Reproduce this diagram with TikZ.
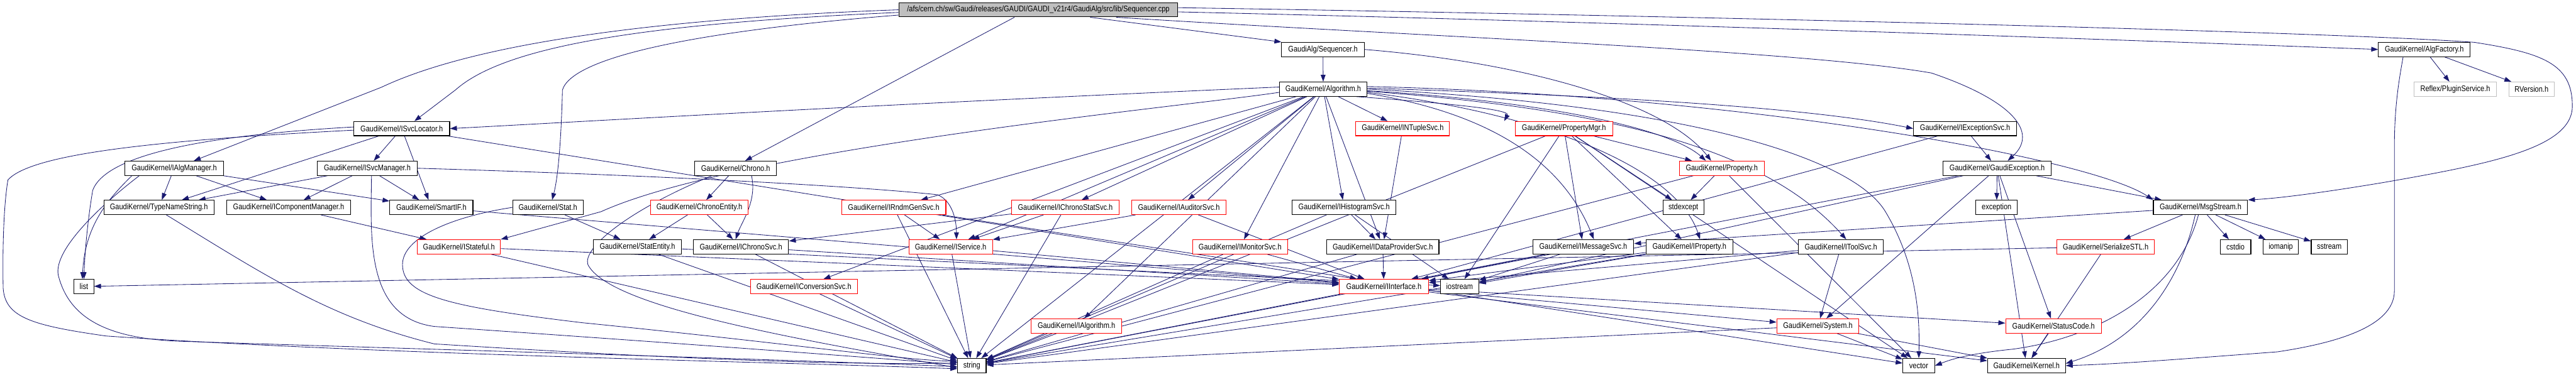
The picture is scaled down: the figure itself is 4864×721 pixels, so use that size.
\documentclass[tikz,border=0pt]{standalone}
\usepackage{fontspec}
\setmainfont{Liberation Sans}[FakeStretch=0.85]
\usetikzlibrary{arrows.meta,backgrounds}
\definecolor{navy}{HTML}{191970}
\definecolor{gfill}{HTML}{BFBFBF}
\newcommand\gfont{\fontsize{15.4}{18}\selectfont}
\tikzset{
 nb/.style={draw=black, line width=1.3pt, minimum height=27pt, inner sep=0pt, fill=white, font=\gfont},
 nr/.style={nb, draw=red},
 ng/.style={nb, draw=gfill},
 e/.style={draw=navy, line width=1pt, -{Triangle[length=13pt,width=9pt]}},
}
\begin{document}
\begin{tikzpicture}[x=1pt,y=-1pt]
\useasboundingbox (0,0) rectangle (4864,721);
% row A
\node[nb, fill=gfill, minimum width=527pt] (cpp) at (1960.5,18.5) {/afs/cern.ch/sw/Gaudi/releases/GAUDI/GAUDI\_v21r4/GaudiAlg/src/lib/Sequencer.cpp};
% row B
\node[nb, minimum width=156pt] (seqh) at (2498,93.5) {GaudiAlg/Sequencer.h};
\node[nb, minimum width=173pt] (algf) at (4577.5,93.5) {GaudiKernel/AlgFactory.h};
% row C
\node[nb, minimum width=165pt] (algh) at (2498.5,168.5) {GaudiKernel/Algorithm.h};
\node[ng, minimum width=156pt] (reflex) at (4636,168.5) {Reflex/PluginService.h};
\node[ng, minimum width=86pt] (rver) at (4780,168.5) {RVersion.h};
% row D
\node[nb, minimum width=181pt] (isvcloc) at (758.5,243) {GaudiKernel/ISvcLocator.h};
\node[nr, minimum width=177pt] (intuple) at (2648.5,243) {GaudiKernel/INTupleSvc.h};
\node[nr, minimum width=184pt] (propmgr) at (2953,243) {GaudiKernel/PropertyMgr.h};
\node[nb, minimum width=195pt] (iexc) at (3710.5,243) {GaudiKernel/IExceptionSvc.h};
% row E
\node[nb, minimum width=186pt] (ialgmgr) at (329,318) {GaudiKernel/IAlgManager.h};
\node[nb, minimum width=189pt] (isvcmgr) at (693.5,318) {GaudiKernel/ISvcManager.h};
\node[nb, minimum width=154pt] (chrono) at (1389,318) {GaudiKernel/Chrono.h};
\node[nr, minimum width=160pt] (prop) at (3251,318) {GaudiKernel/Property.h};
\node[nb, minimum width=204pt] (gexc) at (3771,318) {GaudiKernel/GaudiException.h};
% row F
\node[nb, minimum width=208pt] (tns) at (300,392) {GaudiKernel/TypeNameString.h};
\node[nb, minimum width=234pt] (icm) at (545,392) {GaudiKernel/IComponentManager.h};
\node[nb, minimum width=157pt] (smartif) at (814.5,392) {GaudiKernel/SmartIF.h};
\node[nb, minimum width=133pt] (stat) at (1034.5,392) {GaudiKernel/Stat.h};
\node[nr, minimum width=185pt] (chent) at (1320.5,392) {GaudiKernel/ChronoEntity.h};
\node[nr, minimum width=197pt] (irndm) at (1687.5,392) {GaudiKernel/IRndmGenSvc.h};
\node[nr, minimum width=203pt] (icss) at (2011.5,392) {GaudiKernel/IChronoStatSvc.h};
\node[nr, minimum width=178pt] (iaud) at (2226,392) {GaudiKernel/IAuditorSvc.h};
\node[nb, minimum width=196pt] (ihist) at (2538,392) {GaudiKernel/IHistogramSvc.h};
\node[nb, minimum width=77pt] (stdexc) at (3178.5,392) {stdexcept};
\node[nb, minimum width=78pt] (exc) at (3770,392) {exception};
\node[nb, minimum width=178pt] (msgs) at (4155,392) {GaudiKernel/MsgStream.h};
% row G
\node[nr, minimum width=157pt] (istate) at (866.5,466.5) {GaudiKernel/IStateful.h};
\node[nb, minimum width=167pt] (statent) at (1203.5,466.5) {GaudiKernel/StatEntity.h};
\node[nb, minimum width=180pt] (ichrono) at (1399,466.5) {GaudiKernel/IChronoSvc.h};
\node[nr, minimum width=158pt] (iserv) at (1795,466.5) {GaudiKernel/IService.h};
\node[nr, minimum width=179pt] (imon) at (2341.5,466.5) {GaudiKernel/IMonitorSvc.h};
\node[nb, minimum width=212pt] (idp) at (2611,466.5) {GaudiKernel/IDataProviderSvc.h};
\node[nb, minimum width=191pt] (imsg) at (2989.5,466.5) {GaudiKernel/IMessageSvc.h};
\node[nb, minimum width=164pt] (iprop) at (3190,466.5) {GaudiKernel/IProperty.h};
\node[nb, minimum width=160pt] (itool) at (3476,466.5) {GaudiKernel/IToolSvc.h};
\node[nr, minimum width=184pt] (serstl) at (3976,466.5) {GaudiKernel/SerializeSTL.h};
\node[nb, minimum width=58pt] (cstdio) at (4221,466.5) {cstdio};
\node[nb, minimum width=67pt] (iomanip) at (4306.5,466.5) {iomanip};
\node[nb, minimum width=68pt] (sstream) at (4398,466.5) {sstream};
% row H
\node[nb, minimum width=37pt] (list) at (158.5,541.5) {list};
\node[nr, minimum width=202pt] (iconv) at (1518,541.5) {GaudiKernel/IConversionSvc.h};
\node[nr, minimum width=168pt] (iint) at (2613,541.5) {GaudiKernel/IInterface.h};
\node[nb, minimum width=72pt] (iostream) at (2756,541.5) {iostream};
% row I
\node[nr, minimum width=171pt] (ialg) at (2032.5,616) {GaudiKernel/IAlgorithm.h};
\node[nr, minimum width=155pt] (system) at (3432.5,616) {GaudiKernel/System.h};
\node[nr, minimum width=181pt] (sc) at (3877.5,616) {GaudiKernel/StatusCode.h};
% row J
\node[nb, minimum width=54pt] (string) at (1835,691) {string};
\node[nb, minimum width=60pt] (vector) at (3623,691) {vector};
\node[nb, minimum width=147pt] (kernel) at (3826.5,691) {GaudiKernel/Kernel.h};

\begin{pgfonlayer}{background}
\fill[white] (0,0) rectangle (4864,721);
% Sequencer.cpp
\draw[e] (cpp.west) .. controls (1250,35) and (900,80) .. (720,165) -- ([xshift=37pt]ialgmgr.north);
\draw[e] ([yshift=-5pt]cpp.west) .. controls (1200,45) and (950,90) .. (860,170) -- ([xshift=24pt]isvcloc.north);
\draw[e] ([yshift=-10pt]cpp.west) .. controls (1300,60) and (1080,110) .. (1062,170) .. controls (1060,250) and (1055,330) .. ([xshift=8pt]stat.north);
\draw[e] ([xshift=-45pt]cpp.south) -- ([xshift=18pt]chrono.north);
\draw[e] ([xshift=98pt]cpp.south) -- (seqh.north west);
\draw[e] ([yshift=-4pt]cpp.east) .. controls (3000,40) and (4000,75) .. (algf.west);
\draw[e] ([yshift=4pt]cpp.east) .. controls (3200,30) and (4400,60) .. (4672,80) .. controls (4800,100) and (4857,120) .. (4857,200) .. controls (4858,280) and (4700,310) .. (4500,345) .. controls (4380,365) and (4300,375) .. (msgs.north east);
\draw[e] ([xshift=147pt]cpp.south) .. controls (2700,70) and (3400,95) .. (3647,138) .. controls (3800,190) and (3850,250) .. ([xshift=20pt]gexc.north);
% Sequencer.h
\draw[e] (seqh) -- (algh);
\draw[e] (seqh.east) .. controls (2900,120) and (3150,200) .. ([xshift=-20pt]prop.north);
% AlgFactory
\draw[e] (algf) -- (reflex);
\draw[e] (algf) -- (rver);
\draw[e] ([xshift=-40pt]algf.south) .. controls (4530,150) and (4521,200) .. (4521,280) -- (4521,550) .. controls (4521,620) and (4400,650) .. (4300,665) .. controls (4100,680) and (4000,688) .. (kernel.east);
% Algorithm.h
\draw[e] ([yshift=4pt]algh.west) .. controls (1600,200) and (1100,230) .. (isvcloc.east);
\draw[e] ([yshift=-6pt]algh.west) .. controls (2250,200) and (1400,280) .. (1135,400) -- (istate.north east);
\foreach \t in {irndm,icss,iaud,iserv,iconv,ihist,idp,intuple,imon,ialg,string}
  \draw[e] (algh) -- (\t);
\draw[e] ([xshift=-20pt]algh.south east) .. controls (2800,200) and (2850,210) .. ([xshift=-20pt]propmgr.north west);
\draw[e] ([yshift=-3pt]algh.east) .. controls (2900,190) and (3150,240) .. ([xshift=-30pt]prop.north);
\draw[e] ([yshift=2pt]algh.east) .. controls (3000,180) and (3400,200) .. (iexc.west);
\draw[e] ([yshift=-8pt]algh.east) .. controls (2850,220) and (2960,330) .. ([xshift=20pt]imsg.north);
\draw[e] ([yshift=-6pt]algh.east) .. controls (2950,220) and (3170,330) .. ([xshift=20pt]iprop.north);
\draw[e] ([yshift=-4pt]algh.east) .. controls (3100,210) and (3350,300) .. ([xshift=10pt]itool.north);
\draw[e] ([yshift=0pt]algh.east) .. controls (3200,200) and (3500,300) .. (3560,400) .. controls (3620,500) and (3625,600) .. (vector.north);
\draw[e] ([yshift=5pt]algh.east) .. controls (3300,180) and (3950,300) .. (msgs.north west);
% ISvcLocator
\foreach \t in {isvcmgr,tns,smartif,iint}
  \draw[e] (isvcloc) -- (\t);
\draw[e] ([yshift=3pt]isvcloc.west) .. controls (400,255) and (200,290) .. (175,360) .. controls (165,420) and (160,480) .. (list.north);
\draw[e] ([yshift=-3pt]isvcloc.west) .. controls (300,265) and (60,290) .. (15,340) .. controls (5,400) and (5,500) .. (6,545) .. controls (10,600) and (60,615) .. (200,635) .. controls (700,670) and (1500,685) .. ([yshift=-6pt]string.west);
% IAlgManager
\foreach \t in {tns,icm,smartif}
  \draw[e] (ialgmgr) -- (\t);
\draw[e] ([xshift=-80pt]ialgmgr.south) .. controls (200,380) and (160,430) .. ([xshift=-3pt]list.north);
\draw[e] ([xshift=-66pt]ialgmgr.south) .. controls (200,380) and (100,470) .. (110,520) .. controls (130,600) and (200,640) .. (340,645) .. controls (800,660) and (1500,680) .. ([yshift=-2pt]string.west);
% ISvcManager
\foreach \t in {tns,icm,smartif}
  \draw[e] (isvcmgr) -- (\t);
\draw[e] ([xshift=8pt]isvcmgr.south) .. controls (700,450) and (690,600) .. (820,617) .. controls (1300,650) and (1700,680) .. ([yshift=2pt]string.west);
\draw[e] (isvcmgr.east) .. controls (1200,330) and (1600,350) .. (1770,368) .. controls (1800,380) and (1806,420) .. ([xshift=11pt]iserv.north);
% TypeNameString, IComponentManager, SmartIF
\draw[e] ([xshift=14pt]tns.south) .. controls (500,520) and (620,600) .. (820,650) .. controls (1300,680) and (1600,690) .. ([yshift=5pt]string.west);
\draw[e] (icm) -- (istate);
\draw[e] (smartif) -- (iint);
% Stat, Chrono
\draw[e] (stat) -- (statent);
\draw[e] (stat.west) .. controls (850,410) and (760,450) .. (760,500) .. controls (760,560) and (850,580) .. (1100,610) .. controls (1500,650) and (1700,680) .. ([yshift=8pt]string.west);
\draw[e] (chrono) -- (chent);
\draw[e] ([xshift=30pt]chrono.south) .. controls (1430,380) and (1400,420) .. ([xshift=-10pt]ichrono.north);
\draw[e] ([xshift=-45pt]chrono.south) .. controls (1180,400) and (1100,470) .. (1110,500) .. controls (1150,580) and (1500,640) .. ([yshift=-4pt]string.west);
\draw[e] (chent) -- (statent);
\draw[e] (chent) -- (ichrono);
% row G sources
\foreach \s/\t in {statent/string, statent/iostream, ichrono/string, ichrono/iint, istate/iint, istate/string, iconv/string,
  irndm/iserv, irndm/string, irndm/vector, icss/iserv, icss/string, icss/ichrono, iaud/iserv, iaud/iint,
  iserv/string, iserv/iint, imon/string, imon/iint, ihist/idp, ihist/iostream, ihist/string,
  idp/iint, idp/string, intuple/idp, imsg/iint, imsg/iostream, imsg/string,
  iprop/iint, iprop/iostream, iprop/string, itool/system, itool/iint, itool/string,
  propmgr/prop, propmgr/iprop, propmgr/stdexc, propmgr/iostream, propmgr/string, propmgr/vector, propmgr/imsg,
  prop/stdexc, prop/string, prop/vector, iexc/gexc, iexc/iint,
  gexc/exc, gexc/kernel, gexc/sc, gexc/system, gexc/string, gexc/iostream, gexc/msgs,
  serstl/list, serstl/kernel,
  msgs/imsg, msgs/serstl, msgs/cstdio, msgs/iomanip, msgs/sstream,
  ialg/string, iint/system, iint/sc, iint/kernel, system/vector, system/kernel, system/string, sc/kernel}
  \draw[e] (\s) -- (\t);
\draw[e] ([xshift=-10pt]msgs.south) .. controls (4120,520) and (4050,640) .. ([yshift=4pt]kernel.east);
\draw[e] ([xshift=-4pt]msgs.south) .. controls (4110,560) and (3950,640) .. (3800,660) .. controls (3700,670) and (3670,685) .. (vector.east);
\end{pgfonlayer}
\end{tikzpicture}
\end{document}
